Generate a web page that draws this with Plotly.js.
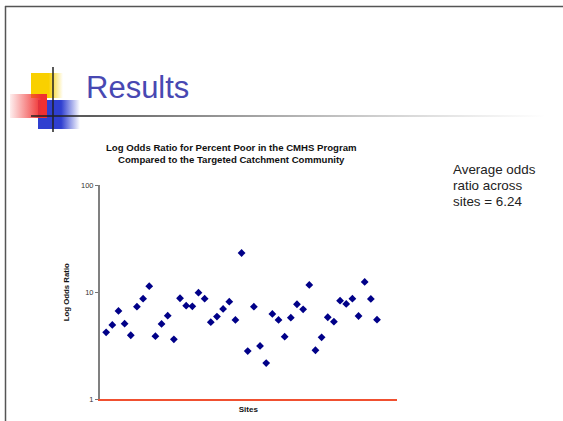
<!DOCTYPE html>
<html>
<head>
<meta charset="utf-8">
<script src="https://cdn.plot.ly/plotly-3.0.1.min.js"></script>
<style>html,body{margin:0;padding:0;background:#fff;}#chart{width:563px;height:421px;}</style>
</head>
<body>
<div id="chart"></div>
<script>
// ---- data ----
const sites = [1,2,3,4,5,6,7,8,9,10,11,12,13,14,15,16,17,18,19,20,21,22,23,24,25,26,27,28,29,30,31,32,33,34,35,36,37,38,39,40,41,42,43,44,45];
const logOddsRatio = [4.22,4.94,6.68,5.08,3.96,7.32,8.70,11.36,3.88,5.05,6.03,3.63,8.77,7.48,7.38,9.89,8.70,5.24,5.91,6.97,8.15,5.50,23.2,2.82,7.32,3.15,2.18,6.26,5.50,3.84,5.78,7.71,6.92,11.68,2.87,3.79,5.83,5.30,8.33,7.76,8.70,5.99,12.45,8.64,5.54];
const yTickVals = [1,10,100];
const yTickText = ['1','10','100'];
const chartTitle = ['Log Odds Ratio for Percent Poor in the CMHS Program','Compared to the Targeted Catchment Community'];
const slideTitle = 'Results';
const sideNote = ['Average odds','ratio across','sites = 6.24'];
const xTitle = 'Sites';
const yTitle = 'Log Odds Ratio';

// ---- helpers: pixel -> paper ----
const W = 563, H = 421;
const px = x => x / W;
const py = y => 1 - y / H;

const shapes = [];
function line(x0,y0,x1,y1,color,w,op){
  shapes.push({type:'line',xref:'paper',yref:'paper',x0:px(x0),x1:px(x1),y0:py(y0),y1:py(y1),
    line:{color:color,width:w},opacity:op===undefined?1:op});
}
// slide border
line(5,6.5,563,6.5,'#555',1.5);
line(5.5,6,5.5,421,'#555',1.5);
// cross lines of the slide logo
line(53,67,53,132,'#222',1.5);
line(31,116,90,116,'#222',1.5);
shapes.push({type:'line',xref:'paper',yref:'paper',x0:px(90),x1:px(545),y0:py(116),y1:py(116),line:{color:'rgba(0,0,0,0)',width:0}});

// logo blocks + fading rule drawn as an inline SVG image (gradients)
const logoSvg =
 '<svg xmlns="http://www.w3.org/2000/svg" width="563" height="80" viewBox="0 0 563 80">'+
 '<defs>'+
 '<linearGradient id="gy" x1="0" x2="1" y1="0" y2="0"><stop offset="0.55" stop-color="#F9D000" stop-opacity="1"/><stop offset="1" stop-color="#F9D000" stop-opacity="0"/></linearGradient>'+
 '<linearGradient id="gb" x1="0" x2="1" y1="0" y2="0"><stop offset="0.55" stop-color="#2F3FD0" stop-opacity="1"/><stop offset="1" stop-color="#2F3FD0" stop-opacity="0"/></linearGradient>'+
 '<linearGradient id="gr" x1="0" x2="1" y1="0" y2="0"><stop offset="0" stop-color="#F03030" stop-opacity="0.08"/><stop offset="0.85" stop-color="#F03030" stop-opacity="1"/></linearGradient>'+
 '<linearGradient id="gl" x1="0" x2="1" y1="0" y2="0"><stop offset="0" stop-color="#555" stop-opacity="0.95"/><stop offset="1" stop-color="#888" stop-opacity="0"/></linearGradient>'+
 '</defs>'+
 '<rect x="31" y="13" width="32" height="25" fill="url(#gy)"/>'+
 '<rect x="38" y="40" width="42" height="29" fill="url(#gb)"/>'+
 '<rect x="10" y="34" width="37" height="24" fill="url(#gr)"/>'+
 '<rect x="90" y="55" width="455" height="2" fill="url(#gl)"/>'+
 '</svg>';
const images = [{source:'data:image/svg+xml;charset=utf-8,'+encodeURIComponent(logoSvg),
  xref:'paper',yref:'paper',x:0,y:py(60),sizex:1,sizey:80/H,sizing:'stretch',xanchor:'left',yanchor:'top',layer:'below'}];

const trace = {
  type:'scatter', mode:'markers', x:sites, y:logOddsRatio,
  marker:{symbol:'diamond', size:6, color:'#000088'},
  hoverinfo:'skip', showlegend:false
};

const FONT = 'Liberation Sans, Arial, sans-serif';
const annotations = [
  {xref:'paper',yref:'paper',x:px(231),y:py(153.5),xanchor:'center',yanchor:'middle',showarrow:false,
   text:'<b>'+chartTitle.join('<br>')+'</b>', font:{family:FONT,size:9.6,color:'#111'}},
  {xref:'paper',yref:'paper',x:px(84),y:py(87),xanchor:'left',yanchor:'middle',showarrow:false,
   text:slideTitle, font:{family:FONT,size:31,color:'#4848B2'}},
];
sideNote.forEach((t,i)=>annotations.push({xref:'paper',yref:'paper',x:px(451),y:py(169+i*16),xanchor:'left',yanchor:'middle',
  showarrow:false,text:t,font:{family:FONT,size:13.4,color:'#222'}}));

const layout = {
  width:W, height:H, margin:{l:0,r:0,t:0,b:0},
  paper_bgcolor:'#fff', plot_bgcolor:'rgba(0,0,0,0)',
  xaxis:{domain:[px(100),px(396.7)], range:[0,48.2], showticklabels:false, ticks:'', showgrid:false, zeroline:false,
    showline:true, linecolor:'#F05030', linewidth:1.5, fixedrange:true,
    title:{text:'<b>'+xTitle+'</b>', font:{family:FONT,size:8,color:'#111'}, standoff:6}},
  yaxis:{domain:[py(399.3),py(185)], type:'log', range:[0,2], tickvals:yTickVals, ticktext:yTickText,
    ticks:'outside', ticklen:3, tickcolor:'#777', tickwidth:1, showgrid:false, zeroline:false,
    showline:true, linecolor:'#808080', linewidth:2, fixedrange:true,
    tickfont:{family:FONT,size:7.5,color:'#333'},
    title:{text:'<b>'+yTitle+'</b>', font:{family:FONT,size:7.8,color:'#111'}, standoff:10}},
  shapes:shapes, annotations:annotations, images:images
};
Plotly.newPlot('chart',[trace],layout,{displayModeBar:false,staticPlot:true});
</script>
</body>
</html>
